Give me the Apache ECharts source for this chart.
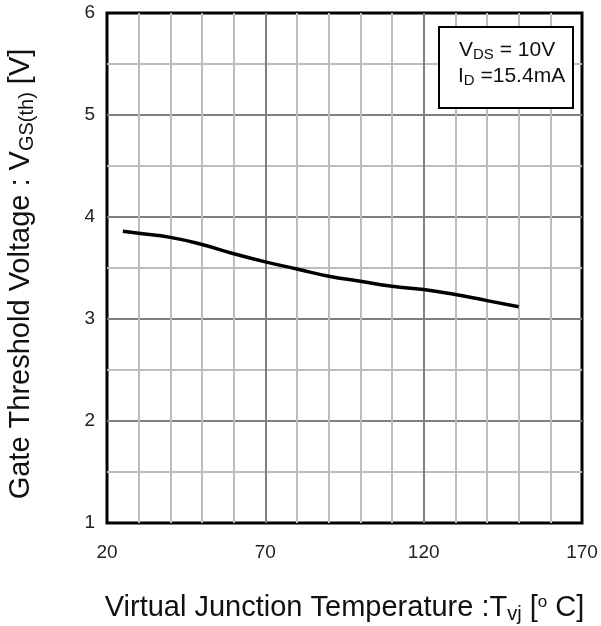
<!DOCTYPE html>
<html>
<head>
<meta charset="utf-8">
<script src="https://cdn.jsdelivr.net/npm/echarts@6/dist/echarts.min.js"></script>
<style>html,body{margin:0;padding:0;background:#fff}#c{width:601px;height:626px}</style>
</head>
<body>
<div id="c"></div>
<script>
var temps = [25, 30, 40, 50, 60, 70, 80, 90, 100, 110, 120, 130, 140, 150];
var vth = [3.86, 3.84, 3.80, 3.73, 3.64, 3.56, 3.49, 3.42, 3.37, 3.32, 3.29, 3.24, 3.18, 3.12];
var xTicks = [20, 70, 120, 170];
var yTicks = [1, 2, 3, 4, 5, 6];

var FONT = '"Liberation Sans", Arial, sans-serif';
var chart = echarts.init(document.getElementById('c'), null, {renderer: 'canvas'});
var pts = temps.map(function (t, i) { return [t, vth[i]]; });

chart.setOption({
  animation: false,
  backgroundColor: '#fff',
  grid: {left: 107, right: 19, top: 13, bottom: 103, show: true, borderColor: '#000', borderWidth: 3,
    backgroundColor: 'transparent', containLabel: false, outerBoundsMode: 'none'},
  xAxis: {
    type: 'value', min: xTicks[0], max: xTicks[xTicks.length - 1], interval: 50,
    name: 'Virtual Junction Temperature :T{sub|vj} [{sup|o} C]',
    nameLocation: 'middle', nameGap: 69,
    nameTextStyle: {fontFamily: FONT, fontSize: 29, color: '#111',
      rich: {sub: {fontFamily: FONT, fontSize: 20, verticalAlign: 'bottom', padding: [12, 0, 0, 0]}, sup: {fontFamily: FONT, fontSize: 17, padding: [0, 0, 12, 0]}}},
    axisLine: {show: false}, axisTick: {show: false},
    axisLabel: {fontFamily: FONT, fontSize: 19, color: '#222', margin: 20},
    splitLine: {show: true, showMinLine: false, showMaxLine: false, lineStyle: {color: '#7f7f7f', width: 2}},
    minorTick: {show: false, splitNumber: 5},
    minorSplitLine: {show: true, lineStyle: {color: '#bdbdbd', width: 2}}
  },
  yAxis: {
    type: 'value', min: yTicks[0], max: yTicks[yTicks.length - 1], interval: 1,
    name: 'Gate Threshold Voltage : V{sub|GS(th)} [V]',
    nameLocation: 'middle', nameGap: 70, nameRotate: 90,
    nameTextStyle: {fontFamily: FONT, fontSize: 29, color: '#111', padding: [0, 12, 0, 0],
      rich: {sub: {fontFamily: FONT, fontSize: 20, padding: [12, 0, 0, 0]}}},
    axisLine: {show: false}, axisTick: {show: false},
    axisLabel: {fontFamily: FONT, fontSize: 19, color: '#222', margin: 12},
    splitLine: {show: true, showMinLine: false, showMaxLine: false, lineStyle: {color: '#7f7f7f', width: 2}},
    minorTick: {show: false, splitNumber: 2},
    minorSplitLine: {show: true, lineStyle: {color: '#bdbdbd', width: 2}}
  },
  series: [{
    type: 'line', data: pts, smooth: true, showSymbol: false, symbol: 'none',
    lineStyle: {color: '#000', width: 3.5}, z: 5
  }],
  graphic: [
    {type: 'rect', left: 438, top: 26, z: 100, shape: {width: 134, height: 81}, style: {fill: '#fff', stroke: '#000', lineWidth: 2}},
    {type: 'text', x: 459, y: 50, z: 101, style: {text: 'V{s|DS} = 10V', fontFamily: FONT, fontSize: 21, fill: '#111', verticalAlign: 'middle',
      rich: {s: {fontFamily: FONT, fontSize: 15, padding: [9, 0, 0, 0]}}}},
    {type: 'text', x: 458, y: 76, z: 101, style: {text: 'I{s|D} =15.4mA', fontFamily: FONT, fontSize: 21, fill: '#111', verticalAlign: 'middle',
      rich: {s: {fontFamily: FONT, fontSize: 15, padding: [9, 0, 0, 0]}}}}
  ]
});
</script>
</body>
</html>
